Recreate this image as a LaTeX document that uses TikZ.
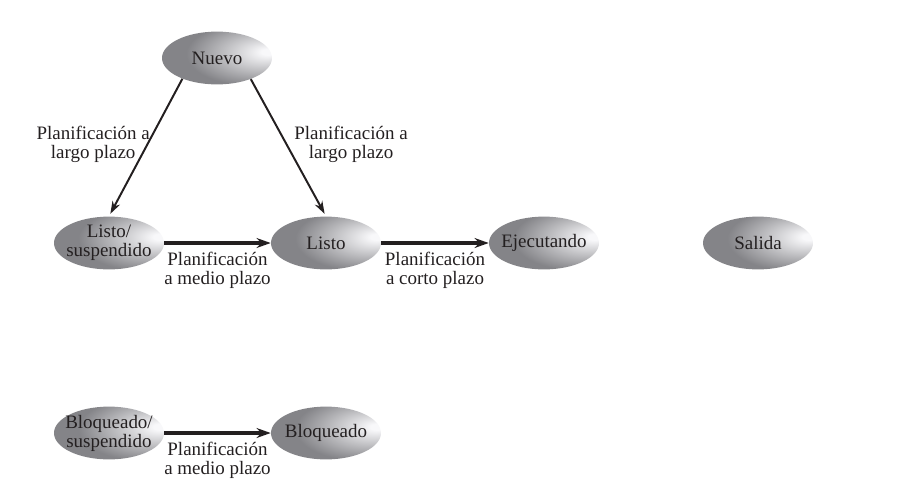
\documentclass[tikz,border=0pt]{standalone}
\usepackage{fontspec}
\setmainfont{Liberation Serif}
\usepackage{tikz}
\usepackage{xcolor}
\usetikzlibrary{arrows.meta,shapes.geometric}
\definecolor{shadeedge}{RGB}{132,132,136}
\definecolor{shadelight}{RGB}{248,248,250}
\definecolor{ink}{RGB}{35,31,32}
\pgfdeclareradialshading{estadoshade}{\pgfpoint{24bp}{6bp}}{%
  color(0bp)=(shadelight); color(3bp)=(shadelight);
  color(30bp)=(shadeedge); color(90bp)=(shadeedge)}

\begin{document}
\begin{tikzpicture}[>=Stealth,
    estado/.style={ellipse, shading=estadoshade, minimum width=2.75cm,
        minimum height=1.32cm, inner sep=-0.3cm, align=center, text=ink,
        font=\fontsize{13.5}{13.6}\selectfont},
    etiqueta/.style={align=center, text=ink, font=\fontsize{13.5}{13.6}\selectfont},
    fina/.style={->, ink, line width=1.4pt, shorten >=2pt,
        >={Stealth[length=9pt,width=6pt]}},
    gruesa/.style={->, ink, line width=3pt,
        >={Stealth[length=10pt,width=7pt]}}]
    \useasboundingbox (0,0) rectangle (22.875,-12.175);

    % States
    \node[estado] (nuevo) at (5.425,-1.45) {Nuevo};
    \node[estado] (listosusp) at (2.725,-6.075) {Listo/\\suspendido};
    \node[estado] (listo) at (8.15,-6.075) {Listo};
    \node[estado] (ejecutando) at (13.6,-6.075) {Ejecutando};
    \node[estado] (salida) at (18.95,-6.075) {Salida};
    \node[estado] (bloqsusp) at (2.725,-10.825) {Bloqueado/\\suspendido};
    \node[estado] (bloqueado) at (8.15,-10.825) {Bloqueado};

    % Long term scheduling
    \draw[fina] (nuevo.-149) -- (listosusp.north);
    \draw[fina] (nuevo.-32) -- (listo.north);
    \node[etiqueta] (largo1) at (2.33,-3.6) {Planificación a\\largo plazo};
    \node[etiqueta] (largo2) at (8.775,-3.6) {Planificación a\\largo plazo};

    % Medium and short term scheduling
    \draw[gruesa] (listosusp) -- node[etiqueta, below=3pt, inner sep=2pt] {Planificación\\a medio plazo} (listo);
    \draw[gruesa] (listo) -- node[etiqueta, below=3pt, inner sep=2pt] {Planificación\\a corto plazo} (ejecutando);
    \draw[gruesa] (bloqsusp) -- node[etiqueta, below=3pt, inner sep=2pt] {Planificación\\a medio plazo} (bloqueado);
\end{tikzpicture}
\end{document}
